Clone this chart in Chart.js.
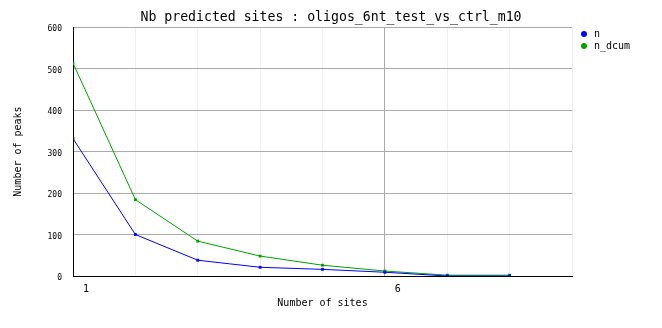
<!DOCTYPE html>
<html><head><meta charset="utf-8">
<script src="https://cdn.jsdelivr.net/npm/chart.js@4/dist/chart.umd.min.js"></script>
<style>html,body{margin:0;padding:0;background:#fff;}#wrap{width:662px;height:328px;}</style>
</head><body><div id="wrap"><canvas id="c" width="662" height="328"></canvas></div>
<script>
const xValues = [1, 2, 3, 4, 5, 6, 7, 8];
const nValues = [331, 100, 38, 21, 16, 9, 0, 0];
const nDcumValues = [513, 184, 84, 48, 26, 12, 2, 2];
const xTickLabels = [1, 6];
const titleText = 'Nb predicted sites : oligos_6nt_test_vs_ctrl_m10';
const MONO = '"DejaVu Sans Mono", monospace';

const legendBox = {
  id: 'legendBox',
  beforeLayout(chart) {
    const lg = chart.legend;
    if (!lg._patched) {
      const origFit = lg.fit.bind(lg);
      lg.fit = function () { origFit(); this.width = 90; };
      lg._patched = true;
    }
  },
  afterLayout(chart) {
    const lg = chart.legend;
    const dx = chart.chartArea.right + 5 - lg.left;
    const dy = chart.chartArea.top - lg.top;
    lg.left += dx; lg.right += dx;
    lg.top += dy; lg.bottom += dy;
  }
};

new Chart(document.getElementById('c'), {
  type: 'line',
  data: {
    datasets: [
      { label: 'n', data: xValues.map((x, i) => ({ x, y: nValues[i] })), borderColor: '#0000ff', backgroundColor: '#0000ff', borderWidth: 1, pointStyle: 'rect', pointRadius: 2, pointBorderWidth: 0, tension: 0 },
      { label: 'n_dcum', data: xValues.map((x, i) => ({ x, y: nDcumValues[i] })), borderColor: '#00a000', backgroundColor: '#00a000', borderWidth: 1, pointStyle: 'rect', pointRadius: 2, pointBorderWidth: 0, tension: 0 }
    ]
  },
  options: {
    responsive: false, animation: false, devicePixelRatio: 1,
    layout: { padding: 0 },
    plugins: {
      title: { display: true, text: titleText, color: '#000', font: { family: MONO, size: 13.2, weight: 'normal' }, padding: { top: 10, bottom: 1.2 } },
      legend: { display: true, position: 'right', align: 'start',
        labels: { usePointStyle: true, pointStyle: 'circle', boxWidth: 10, boxHeight: 4.2, padding: 2, color: '#000', font: { family: MONO, size: 10 } } },
      tooltip: { enabled: false }
    },
    scales: {
      x: { type: 'linear', min: 1, max: 9,
        afterFit(s) { s.height = 52; },
        afterBuildTicks(s) { s.ticks = [1,2,3,4,5,6,7,8,9].map(v => ({ value: v })); },
        border: { color: '#000', width: 1 },
        grid: { color: ctx => (ctx.tick && xTickLabels.includes(ctx.tick.value)) ? '#aaaaaa' : '#eeeeee', drawTicks: false },
        ticks: { callback: v => xTickLabels.includes(v) ? String(v) : '', autoSkip: false, maxRotation: 0, labelOffset: 13, padding: 7, color: '#000', font: { family: MONO, size: 10 } },
        title: { display: true, text: 'Number of sites', color: '#000', font: { family: MONO, size: 10 }, padding: { top: 0, bottom: 19 } }
      },
      y: { min: 0, max: 600,
        afterFit(s) { s.width = 73; },
        border: { color: '#000', width: 1 },
        grid: { color: '#aaaaaa', drawTicks: false },
        ticks: { stepSize: 100, padding: 11, labelOffset: 2, color: '#000', font: { family: MONO, size: 8 } },
        title: { display: true, text: 'Number of peaks', color: '#000', font: { family: MONO, size: 10 }, padding: { top: 12, bottom: 0 } }
      }
    }
  },
  plugins: [legendBox]
});
</script></body></html>
